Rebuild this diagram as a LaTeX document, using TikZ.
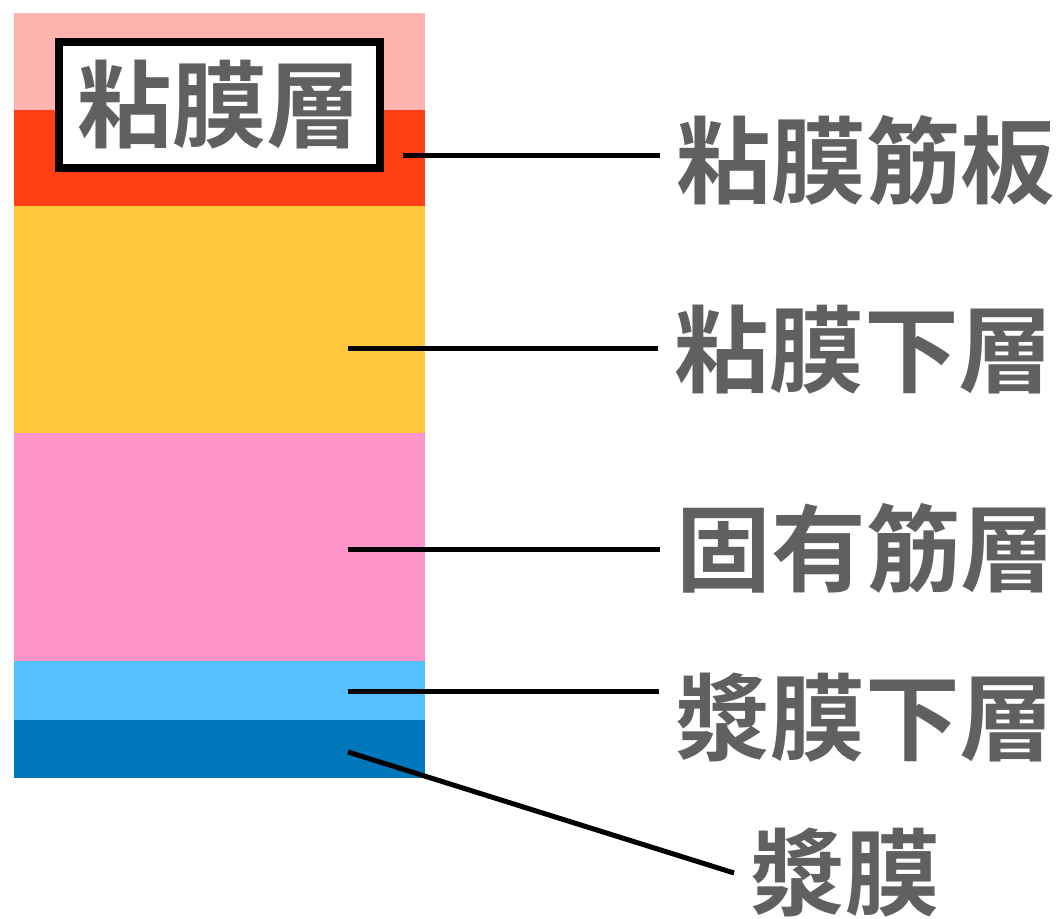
\documentclass[tikz,border=0pt]{standalone}
\usepackage{fontspec}
\newfontfamily\cjk{Noto Sans CJK JP Bold}
\definecolor{cTopPink}{HTML}{FFB3AE}
\definecolor{cRed}{HTML}{FF4014}
\definecolor{cYellow}{HTML}{FFC83C}
\definecolor{cPink}{HTML}{FF94CB}
\definecolor{cLightBlue}{HTML}{55C0FF}
\definecolor{cDarkBlue}{HTML}{0077BB}
\definecolor{cText}{HTML}{606060}
\tikzset{
  lbl/.style={font=\cjk\fontsize{71}{71}\selectfont, text=cText, inner xsep=12pt, inner ysep=0pt},
  boxlbl/.style={font=\cjk\fontsize{71}{71}\selectfont, text=cText, draw=black, line width=6pt, fill=white,
    minimum width=240.75pt, minimum height=94.5pt, inner sep=0pt},
  leader/.style={draw=black, line width=3.75pt}
}
\begin{document}
\begin{tikzpicture}[x=0.75pt,y=-0.75pt]
\useasboundingbox (0,0) rectangle (1063,918);
% layers
\fill[cTopPink]   (14,13)  rectangle (425,110);
\fill[cRed]       (14,110) rectangle (425,206);
\fill[cYellow]    (14,206) rectangle (425,433);
\fill[cPink]      (14,433) rectangle (425,661);
\fill[cLightBlue] (14,661) rectangle (425,720);
\fill[cDarkBlue]  (14,720) rectangle (425,778);
% box label
\node[boxlbl] (mucosa) at (219.5,105) {粘膜層};
% labels
\node[lbl] (l1) at (866,160) {粘膜筋板};
\node[lbl] (l2) at (864,350) {粘膜下層};
\node[lbl] (l3) at (866,548) {固有筋層};
\node[lbl] (l4) at (865,718) {漿膜下層};
\node[lbl] (l5) at (845,873) {漿膜};
% leader start points
\coordinate (s1) at (403,155);
\coordinate (s2) at (348,348);
\coordinate (s3) at (348,549);
\coordinate (s4) at (348,691);
\coordinate (s5) at (348,752);
\draw[leader] (s1) -- (s1 -| l1.west);
\draw[leader] (s2) -- (s2 -| l2.west);
\draw[leader] (s3) -- (s3 -| l3.west);
\draw[leader] (s4) -- (s4 -| l4.west);
\draw[leader] (s5) -- (l5.west);
\end{tikzpicture}
\end{document}
